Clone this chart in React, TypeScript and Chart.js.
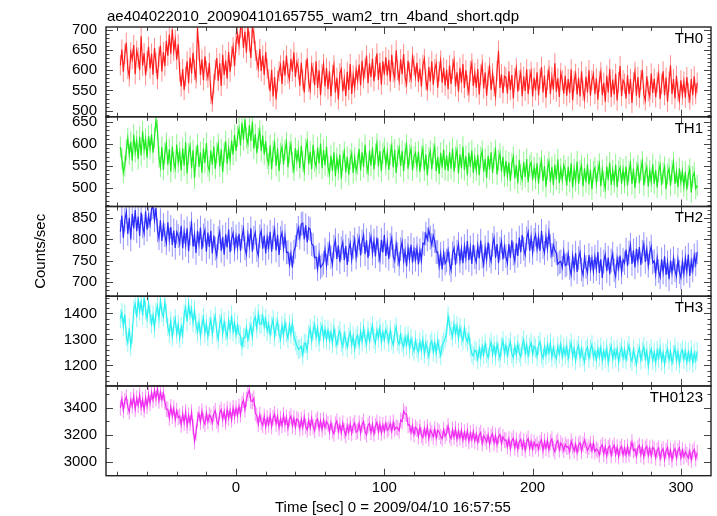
import React, { useEffect, useRef } from 'react';
import { Chart, registerables } from 'chart.js';
Chart.register(...registerables);

// 1-s time bins (sec from 2009/04/10 16:57:55)
const T_START = -78;
const T_STEP = 1;

const TH0 = [
  612, 651, 596, 640, 668, 603, 585, 644, 627, 662, 590, 648, 631, 600, 684, 611, 642, 587, 622, 658,
  604, 641, 589, 655, 618, 578, 633, 661, 597, 645, 610, 672, 636, 688, 641, 701, 648, 675, 626, 664,
  596, 560, 603, 551, 585, 622, 568, 631, 592, 643, 601, 580, 705, 648, 588, 626, 575, 634, 598, 582,
  618, 541, 522, 566, 601, 630, 574, 617, 561, 638, 588, 624, 579, 645, 596, 634, 657, 610, 668, 690,
  662, 704, 706, 655, 695, 643, 706, 671, 630, 706, 690, 648, 625, 606, 652, 598, 636, 588, 645, 603,
  578, 548, 601, 535, 583, 528, 574, 597, 612, 566, 624, 587, 636, 592, 578, 628, 597, 644, 583, 619,
  604, 561, 618, 576, 545, 601, 629, 571, 552, 611, 594, 563, 622, 556, 600, 538, 590, 615, 560, 605,
  553, 597, 536, 588, 612, 545, 581, 528, 592, 603, 548, 578, 536, 596, 551, 615, 541, 587, 557, 601,
  575, 614, 562, 623, 580, 604, 636, 568, 617, 583, 629, 573, 609, 641, 576, 618, 564, 622, 589, 632,
  587, 625, 572, 638, 595, 581, 649, 600, 574, 627, 590, 640, 583, 566, 623, 594, 578, 633, 612, 584,
  618, 571, 604, 559, 613, 628, 577, 550, 608, 572, 622, 564, 603, 616, 557, 597, 624, 569, 606, 562,
  601, 553, 612, 566, 603, 623, 560, 595, 547, 606, 569, 615, 556, 600, 563, 545, 598, 617, 561, 593,
  557, 603, 540, 589, 614, 555, 594, 537, 586, 607, 551, 592, 560, 536, 598, 648, 556, 590, 543, 585,
  582, 542, 597, 551, 588, 530, 580, 605, 547, 575, 594, 536, 584, 549, 602, 541, 578, 596, 535, 581,
  550, 595, 538, 579, 608, 545, 587, 532, 576, 600, 541, 583, 552, 617, 547, 580, 534, 593, 575, 542,
  586, 537, 578, 544, 602, 526, 573, 591, 540, 581, 535, 597, 549, 530, 584, 545, 600, 537, 575, 590,
  541, 580, 527, 572, 595, 538, 569, 522, 586, 545, 603, 534, 577, 540, 591, 525, 571, 610, 536, 575,
  567, 530, 588, 541, 578, 519, 570, 596, 537, 583, 532, 575, 601, 540, 526, 585, 548, 535, 592, 544,
  579, 533, 570, 590, 529, 566, 597, 538, 582, 522, 571, 612, 541, 578, 530, 586, 547, 526, 575, 539,
  572, 532, 583, 544, 527, 578, 538, 585, 541, 569,
];
const TH1 = [
  592, 566, 534, 549, 586, 612, 575, 604, 561, 620, 581, 606, 565, 615, 573, 628, 586, 610, 568, 617,
  588, 621, 579, 613, 652, 630, 569, 547, 592, 540, 579, 601, 552, 587, 536, 593, 558, 544, 598, 557,
  581, 539, 589, 550, 603, 532, 577, 594, 544, 585, 521, 571, 598, 547, 580, 534, 589, 556, 601, 549,
  538, 584, 552, 593, 543, 578, 599, 548, 587, 535, 580, 605, 554, 589, 563, 607, 575, 620, 583, 616,
  634, 595, 647, 608, 655, 613, 600, 642, 606, 650, 589, 621, 578, 612, 629, 583, 618, 575, 605, 566,
  554, 596, 542, 583, 601, 549, 589, 537, 578, 592, 552, 586, 603, 546, 581, 598, 557, 539, 590, 561,
  584, 544, 595, 559, 538, 588, 604, 553, 582, 542, 597, 560, 548, 591, 555, 600, 544, 586, 551, 593,
  547, 531, 572, 538, 580, 526, 567, 540, 575, 520, 562, 581, 535, 570, 529, 564, 577, 533, 568, 538,
  553, 588, 539, 580, 547, 597, 554, 536, 584, 550, 591, 541, 576, 600, 548, 583, 537, 578, 589, 552,
  580, 540, 575, 594, 546, 586, 533, 572, 589, 549, 583, 537, 578, 597, 543, 574, 588, 539, 570, 579,
  547, 582, 536, 571, 588, 539, 575, 528, 568, 583, 542, 577, 592, 537, 570, 531, 579, 546, 586, 540,
  573, 538, 580, 543, 589, 536, 569, 585, 532, 575, 544, 593, 540, 571, 528, 579, 547, 584, 534, 567,
  539, 575, 528, 569, 583, 536, 565, 522, 572, 541, 580, 533, 567, 585, 530, 562, 577, 536, 570, 525,
  561, 526, 557, 515, 554, 570, 521, 551, 510, 563, 529, 518, 558, 524, 565, 512, 549, 557, 517, 546,
  520, 555, 509, 546, 561, 515, 549, 502, 542, 558, 512, 547, 506, 552, 518, 564, 510, 543, 517, 550,
  539, 505, 547, 513, 555, 500, 542, 515, 559, 508, 538, 550, 503, 544, 512, 553, 507, 541, 496, 536,
  545, 510, 537, 554, 503, 540, 514, 498, 548, 517, 557, 506, 539, 512, 552, 501, 537, 546, 509, 541,
  511, 548, 504, 537, 555, 508, 543, 499, 535, 550, 510, 540, 559, 505, 534, 546, 502, 538, 513, 553,
  509, 540, 500, 536, 551, 506, 533, 547, 497, 531, 543, 504, 538, 558, 508, 535, 501, 544, 512, 537,
  503, 536, 495, 528, 542, 489, 525, 534, 498, 505,
];
const TH2 = [
  818, 856, 804, 846, 864, 813, 851, 800, 860, 826, 869, 819, 854, 808, 863, 831, 814, 866, 823, 855,
  835, 872, 876, 845, 874, 821, 803, 845, 796, 834, 810, 791, 840, 799, 829, 787, 821, 780, 817, 808,
  790, 832, 779, 818, 787, 826, 772, 814, 837, 783, 811, 768, 820, 789, 828, 777, 809, 822, 771, 816,
  782, 820, 767, 809, 778, 761, 803, 818, 773, 806, 764, 812, 781, 823, 770, 801, 815, 776, 807, 780,
  813, 773, 806, 824, 779, 764, 811, 784, 826, 771, 804, 816, 775, 762, 807, 820, 778, 809, 767, 805,
  780, 818, 771, 805, 823, 774, 811, 763, 803, 816, 778, 808, 769, 770, 741, 766, 733, 771, 782, 810,
  827, 804, 836, 838, 800, 833, 793, 827, 824, 789, 786, 757, 758, 730, 764, 734, 739, 745, 776, 738,
  766, 789, 758, 741, 783, 798, 754, 786, 746, 779, 793, 751, 784, 740, 775, 791, 752, 782, 800, 757,
  786, 803, 762, 795, 810, 765, 798, 756, 789, 806, 767, 797, 760, 804, 774, 752, 799, 769, 811, 761,
  792, 754, 787, 803, 760, 749, 789, 765, 742, 777, 794, 750, 773, 736, 780, 753, 787, 745, 776, 752,
  779, 741, 774, 750, 791, 789, 813, 800, 822, 804, 787, 809, 796, 770, 770, 737, 766, 729, 768, 743,
  750, 774, 743, 727, 767, 780, 740, 771, 789, 749, 778, 744, 784, 756, 796, 751, 781, 742, 787, 758,
  746, 785, 755, 797, 760, 740, 781, 753, 793, 762, 748, 787, 803, 756, 789, 744, 778, 795, 753, 783,
  760, 744, 789, 756, 798, 766, 749, 791, 761, 804, 770, 810, 778, 763, 802, 817, 773, 805, 768, 799,
  811, 777, 806, 773, 820, 782, 768, 807, 778, 816, 784, 763, 787, 774, 768, 741, 746, 748, 733, 770,
  738, 741, 766, 733, 717, 760, 731, 768, 723, 756, 770, 729, 716, 759, 735, 721, 763, 730, 755, 724,
  759, 730, 770, 721, 753, 709, 748, 764, 725, 757, 718, 750, 766, 727, 713, 755, 731, 762, 722, 752,
  744, 776, 737, 769, 787, 742, 774, 734, 778, 749, 782, 740, 771, 789, 747, 777, 738, 768, 783, 745,
  749, 718, 756, 725, 711, 753, 722, 760, 716, 746, 706, 750, 721, 755, 727, 713, 752, 723, 710, 747,
  719, 756, 725, 764, 714, 749, 727, 762, 741, 770,
];
const TH3 = [
  1380, 1403, 1350, 1396, 1312, 1288, 1343, 1273, 1320, 1414, 1436, 1384, 1453, 1410, 1445, 1391, 1460, 1413, 1380, 1438,
  1394, 1360, 1393, 1343, 1404, 1428, 1380, 1449, 1404, 1387, 1444, 1400, 1348, 1323, 1370, 1310, 1353, 1380, 1321, 1358,
  1304, 1349, 1318, 1396, 1423, 1368, 1437, 1390, 1418, 1364, 1413, 1356, 1330, 1365, 1313, 1357, 1384, 1324, 1362, 1310,
  1350, 1376, 1319, 1363, 1389, 1328, 1301, 1360, 1382, 1321, 1368, 1333, 1310, 1374, 1337, 1393, 1330, 1365, 1317, 1356,
  1321, 1313, 1273, 1306, 1306, 1344, 1300, 1330, 1353, 1309, 1370, 1386, 1341, 1399, 1358, 1360, 1390, 1349, 1380, 1332,
  1359, 1318, 1352, 1377, 1310, 1348, 1370, 1323, 1300, 1355, 1316, 1366, 1327, 1304, 1357, 1321, 1363, 1312, 1293, 1277,
  1262, 1264, 1274, 1240, 1285, 1284, 1257, 1319, 1342, 1294, 1334, 1357, 1307, 1345, 1290, 1330, 1352, 1302, 1339, 1298,
  1336, 1296, 1327, 1284, 1343, 1304, 1278, 1316, 1333, 1289, 1273, 1322, 1294, 1270, 1307, 1328, 1279, 1313, 1263, 1304,
  1316, 1277, 1330, 1291, 1344, 1303, 1282, 1334, 1294, 1326, 1353, 1301, 1285, 1335, 1306, 1346, 1290, 1328, 1297, 1339,
  1320, 1288, 1336, 1297, 1279, 1324, 1348, 1294, 1281, 1319, 1287, 1270, 1311, 1278, 1316, 1264, 1302, 1273, 1255, 1297,
  1266, 1250, 1291, 1258, 1299, 1244, 1285, 1261, 1235, 1283, 1294, 1252, 1287, 1246, 1296, 1263, 1239, 1276, 1290, 1303,
  1324, 1390, 1352, 1333, 1310, 1360, 1321, 1353, 1304, 1346, 1313, 1296, 1344, 1307, 1290, 1317, 1270, 1246, 1237, 1259,
  1252, 1223, 1266, 1231, 1273, 1241, 1284, 1247, 1230, 1270, 1289, 1242, 1276, 1236, 1281, 1251, 1228, 1272, 1295, 1245,
  1278, 1238, 1269, 1291, 1244, 1230, 1275, 1241, 1283, 1248, 1233, 1276, 1297, 1246, 1280, 1237, 1271, 1288, 1243, 1274,
  1266, 1234, 1277, 1291, 1242, 1228, 1272, 1239, 1280, 1247, 1286, 1231, 1269, 1240, 1225, 1274, 1244, 1282, 1232, 1267,
  1240, 1274, 1226, 1263, 1287, 1233, 1266, 1218, 1260, 1277, 1229, 1265, 1235, 1213, 1258, 1271, 1227, 1262, 1280, 1231,
  1254, 1221, 1265, 1232, 1270, 1217, 1256, 1228, 1267, 1210, 1251, 1274, 1224, 1258, 1231, 1263, 1212, 1252, 1269, 1227,
  1260, 1222, 1255, 1276, 1230, 1216, 1261, 1233, 1204, 1245, 1267, 1220, 1253, 1272, 1225, 1257, 1198, 1244, 1263, 1219,
  1251, 1211, 1258, 1227, 1266, 1216, 1249, 1204, 1246, 1263, 1221, 1255, 1210, 1241, 1268, 1218, 1253, 1206, 1247, 1260,
  1223, 1256, 1212, 1251, 1218, 1259, 1209, 1247, 1220, 1253,
];
const TH0123 = [
  3398, 3466, 3381, 3452, 3480, 3405, 3370, 3459, 3413, 3487, 3389, 3470, 3417, 3494, 3401, 3462, 3384, 3476, 3411, 3498,
  3433, 3514, 3456, 3530, 3467, 3545, 3451, 3516, 3459, 3510, 3441, 3390, 3388, 3325, 3407, 3338, 3396, 3312, 3380, 3327,
  3338, 3273, 3356, 3287, 3370, 3266, 3344, 3285, 3366, 3258, 3150, 3214, 3313, 3356, 3292, 3374, 3304, 3279, 3359, 3297,
  3346, 3331, 3288, 3355, 3379, 3302, 3274, 3363, 3386, 3313, 3374, 3292, 3390, 3322, 3383, 3310, 3399, 3334, 3396, 3342,
  3410, 3348, 3429, 3456, 3384, 3463, 3504, 3530, 3450, 3448, 3470, 3360, 3343, 3278, 3350, 3292, 3269, 3336, 3257, 3324,
  3273, 3342, 3261, 3326, 3354, 3279, 3336, 3252, 3320, 3267, 3347, 3275, 3330, 3248, 3316, 3338, 3265, 3323, 3256, 3318,
  3306, 3244, 3313, 3252, 3329, 3261, 3236, 3308, 3250, 3322, 3258, 3230, 3301, 3316, 3243, 3304, 3237, 3311, 3254, 3298,
  3280, 3220, 3289, 3229, 3206, 3278, 3301, 3223, 3273, 3212, 3286, 3228, 3194, 3269, 3219, 3280, 3210, 3267, 3288, 3218,
  3226, 3286, 3211, 3274, 3299, 3222, 3200, 3270, 3284, 3217, 3277, 3205, 3265, 3292, 3220, 3279, 3212, 3273, 3225, 3284,
  3234, 3247, 3282, 3223, 3293, 3238, 3256, 3250, 3229, 3308, 3298, 3376, 3354, 3352, 3270, 3274, 3214, 3266, 3201, 3255,
  3240, 3187, 3256, 3196, 3178, 3245, 3191, 3258, 3170, 3236, 3213, 3183, 3242, 3175, 3233, 3218, 3186, 3170, 3238, 3189,
  3212, 3265, 3193, 3171, 3238, 3180, 3244, 3166, 3227, 3175, 3233, 3158, 3219, 3167, 3230, 3150, 3212, 3161, 3223, 3153,
  3204, 3142, 3196, 3215, 3133, 3192, 3172, 3145, 3199, 3127, 3188, 3206, 3138, 3193, 3125, 3187, 3202, 3134, 3184, 3160,
  3160, 3110, 3169, 3096, 3155, 3174, 3103, 3158, 3091, 3150, 3166, 3100, 3153, 3084, 3147, 3171, 3098, 3149, 3092, 3142,
  3112, 3130, 3094, 3139, 3163, 3080, 3151, 3099, 3158, 3088, 3144, 3168, 3095, 3073, 3140, 3156, 3086, 3137, 3119, 3083,
  3127, 3107, 3111, 3075, 3152, 3116, 3080, 3130, 3065, 3124, 3140, 3077, 3128, 3159, 3117, 3083, 3107, 3132, 3079, 3138,
  3074, 3094, 3083, 3050, 3106, 3125, 3054, 3112, 3041, 3103, 3117, 3046, 3099, 3121, 3052, 3107, 3038, 3096, 3114, 3049,
  3102, 3048, 3111, 3052, 3094, 3146, 3080, 3093, 3040, 3104, 3120, 3051, 3109, 3034, 3097, 3113, 3045, 3100, 3042, 3106,
  3090, 3030, 3084, 3101, 3023, 3077, 3095, 3017, 3080, 3106, 3032, 3087, 3013, 3076, 3097, 3026, 3081, 3103, 3028, 3085,
  3037, 3073, 3051, 3026, 3079, 3011, 3071, 3090, 3022, 3066,
];

// 1-sigma error bars (counts/sec)
const ERR_TH0 = 25;
const ERR_TH1 = 24;
const ERR_TH2 = 28;
const ERR_TH3 = 37;
const ERR_TH0123 = 58;

const PANEL_NAMES = ['TH0', 'TH1', 'TH2', 'TH3', 'TH0123'];
const X_TICKS = [0, 100, 200, 300];
const Y_TICKS_TH0 = [500, 550, 600, 650, 700];
const Y_TICKS_TH1 = [500, 550, 600, 650];
const Y_TICKS_TH2 = [700, 750, 800, 850];
const Y_TICKS_TH3 = [1200, 1300, 1400];
const Y_TICKS_TH0123 = [3000, 3200, 3400];

const TITLE = 'ae404022010_20090410165755_wam2_trn_4band_short.qdp';
const X_TITLE = 'Time [sec] 0 = 2009/04/10 16:57:55';
const Y_TITLE = 'Counts/sec';

const FONT = '"Liberation Sans", Arial, Helvetica, sans-serif';

const panels = [
  { id: 'y0', name: PANEL_NAMES[0], data: TH0, err: ERR_TH0, ticks: Y_TICKS_TH0, minor: 10, min: 485, max: 706.7, rgb: '255,30,30' },
  { id: 'y1', name: PANEL_NAMES[1], data: TH1, err: ERR_TH1, ticks: Y_TICKS_TH1, minor: 10, min: 457, max: 661, rgb: '30,235,30' },
  { id: 'y2', name: PANEL_NAMES[2], data: TH2, err: ERR_TH2, ticks: Y_TICKS_TH2, minor: 10, min: 666, max: 877.5, rgb: '40,40,250' },
  { id: 'y3', name: PANEL_NAMES[3], data: TH3, err: ERR_TH3, ticks: Y_TICKS_TH3, minor: 20, min: 1121, max: 1466, rgb: '40,240,240' },
  { id: 'y4', name: PANEL_NAMES[4], data: TH0123, err: ERR_TH0123, ticks: Y_TICKS_TH0123, minor: 100, min: 2895, max: 3562, rgb: '240,40,240' },
];

const X_MIN = -87.7;
const X_MAX = 320.3;

const qdpPlugin = {
  id: 'qdp',
  beforeDatasetsDraw(chart: any) {
    const ctx = chart.ctx;
    const xs = chart.scales.x;
    const area = chart.chartArea;
    panels.forEach((p) => {
      const ys = chart.scales[p.id];
      ctx.save();
      ctx.beginPath();
      ctx.rect(area.left, ys.top, area.right - area.left, ys.bottom - ys.top);
      ctx.clip();
      ctx.strokeStyle = `rgba(${p.rgb},0.5)`;
      ctx.lineWidth = 1;
      ctx.beginPath();
      p.data.forEach((v, i) => {
        const px = xs.getPixelForValue(T_START + i * T_STEP);
        ctx.moveTo(px, ys.getPixelForValue(v - p.err));
        ctx.lineTo(px, ys.getPixelForValue(v + p.err));
      });
      ctx.stroke();
      ctx.restore();
    });
  },
  afterDraw(chart: any) {
    const ctx = chart.ctx;
    const xs = chart.scales.x;
    const area = chart.chartArea;
    const L = area.left, R = area.right;
    ctx.save();
    ctx.strokeStyle = '#444';
    ctx.lineWidth = 1;
    panels.forEach((p) => {
      const ys = chart.scales[p.id];
      const T = ys.top, B = ys.bottom;
      ctx.beginPath();
      for (let t = -80; t <= 320; t += 20) {
        const px = Math.round(xs.getPixelForValue(t)) + 0.5;
        if (px < L || px > R) continue;
        const len = t % 100 === 0 ? 7 : 4;
        ctx.moveTo(px, T); ctx.lineTo(px, T + len);
        ctx.moveTo(px, B); ctx.lineTo(px, B - len);
      }
      const start = Math.ceil(p.min / p.minor) * p.minor;
      for (let v = start; v <= p.max; v += p.minor) {
        const py = Math.round(ys.getPixelForValue(v)) + 0.5;
        const len = p.ticks.includes(v) ? 7 : 3.5;
        ctx.moveTo(L, py); ctx.lineTo(L + len, py);
        ctx.moveTo(R, py); ctx.lineTo(R - len, py);
      }
      ctx.stroke();
    });
    ctx.strokeStyle = '#222';
    ctx.lineWidth = 1.4;
    panels.forEach((p) => {
      const ys = chart.scales[p.id];
      ctx.strokeRect(L, ys.top, R - L, ys.bottom - ys.top);
    });
    ctx.fillStyle = '#000';
    ctx.font = `15px ${FONT}`;
    ctx.textBaseline = 'alphabetic';
    ctx.textAlign = 'right';
    panels.forEach((p) => {
      const ys = chart.scales[p.id];
      ctx.fillText(p.name, R - 8, ys.top + 16);
    });
    ctx.textAlign = 'left';
    ctx.fillText(TITLE, L + 1, 21);
    ctx.fillText(X_TITLE, 275, 511.5);
    ctx.save();
    ctx.translate(41, (area.top + area.bottom) / 2);
    ctx.rotate(-Math.PI / 2);
    ctx.textAlign = 'center';
    ctx.textBaseline = 'middle';
    ctx.fillText(Y_TITLE, 0, 0);
    ctx.restore();
    ctx.restore();
  },
};

export default function App() {
  const ref = useRef<HTMLCanvasElement | null>(null);
  useEffect(() => {
    if (!ref.current) return;
    const tickFont = { family: FONT, size: 15 };
    const scales: any = {
      x: {
        type: 'linear',
        position: 'bottom',
        min: X_MIN,
        max: X_MAX,
        afterBuildTicks: (s: any) => { s.ticks = X_TICKS.map((value) => ({ value })); },
        afterFit: (s: any) => { s.height = 40.3; },
        grid: { display: false, drawTicks: false },
        border: { display: false },
        ticks: { color: '#000', font: tickFont, padding: 3, maxRotation: 0, autoSkip: false, callback: (v: any) => String(v) },
      },
    };
    panels.slice().reverse().forEach((p) => {
      scales[p.id] = {
        type: 'linear',
        position: 'left',
        stack: 'panels',
        stackWeight: 1,
        offset: false,
        min: p.min,
        max: p.max,
        afterBuildTicks: (s: any) => { s.ticks = p.ticks.map((value) => ({ value })); },
        afterFit: (s: any) => { s.width = 106; },
        grid: { display: false, drawTicks: false },
        border: { display: false },
        ticks: { color: '#000', font: tickFont, padding: 9, autoSkip: false, callback: (v: any) => String(v) },
      };
    });
    const chart = new Chart(ref.current, {
      type: 'line',
      data: {
        datasets: panels.map((p) => ({
          label: p.name,
          yAxisID: p.id,
          data: p.data.map((v, i) => ({ x: T_START + i * T_STEP, y: v })),
          borderColor: `rgb(${p.rgb})`,
          borderWidth: 1.2,
          pointRadius: 0,
          tension: 0,
          fill: false,
        })),
      },
      options: {
        animation: false,
        responsive: false,
        maintainAspectRatio: false,
        layout: { padding: { top: 27, right: 6, left: 0, bottom: 0 } },
        plugins: { legend: { display: false }, tooltip: { enabled: false }, title: { display: false } },
        scales,
      },
      plugins: [qdpPlugin],
    } as any);
    return () => chart.destroy();
  }, []);
  return (
    <div style={{ position: 'fixed', left: 0, top: 0, width: 717, height: 516, background: '#fff' }}>
      <canvas ref={ref} width={717} height={516} style={{ width: 717, height: 516 }} />
    </div>
  );
}
